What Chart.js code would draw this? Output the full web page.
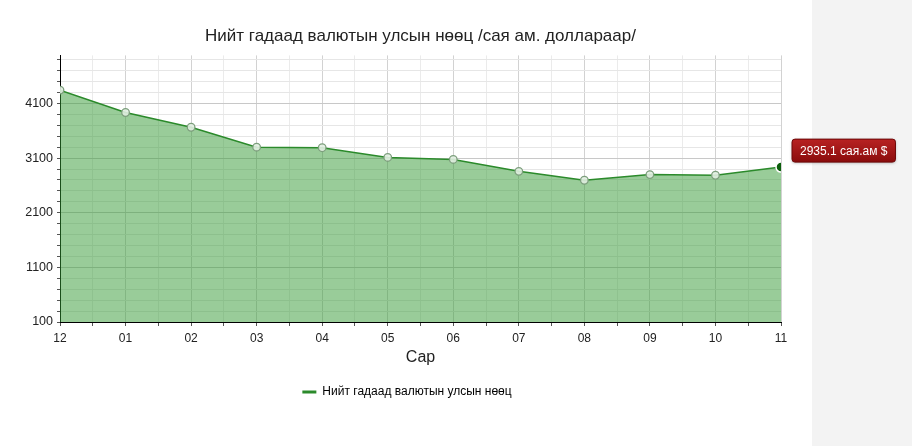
<!DOCTYPE html>
<html>
<head>
<meta charset="utf-8">
<script src="https://cdn.jsdelivr.net/npm/chart.js@4"></script>
<style>
  html, body { margin: 0; padding: 0; }
  body {
    width: 912px; height: 446px; overflow: hidden;
    background: linear-gradient(to right, #fff 0, #fff 812px, #f3f3f3 812px, #f3f3f3 100%);
  }
  #wrap { position: relative; width: 912px; height: 446px; }
</style>
</head>
<body>
<div id="wrap"><canvas id="chart"></canvas></div>
<script>
// Data
const months = ['12', '01', '02', '03', '04', '05', '06', '07', '08', '09', '10', '11'];
const reserves = [4345, 3935, 3665, 3300, 3290, 3112, 3075, 2858, 2695, 2798, 2786, 2935.1];
const yMin = 100;
const yMax = 4980;
const yTicks = [100, 300, 500, 700, 900, 1100, 1300, 1500, 1700, 1900, 2100, 2300, 2500, 2700, 2900,
                3100, 3300, 3500, 3700, 3900, 4100, 4300, 4500, 4700, 4900];
const yLabels = [100, 1100, 2100, 3100, 4100];

const titleText = 'Нийт гадаад валютын улсын нөөц /сая ам. доллараар/';
const seriesName = 'Нийт гадаад валютын улсын нөөц';
const xTitle = 'Сар';
const unitText = 'сая.ам $';

const lastIdx = reserves.length - 1;
const FONT = "'Liberation Sans', Arial, sans-serif";

// Tooltip-like label next to the last point
const valueBadge = {
    id: 'valueBadge',
    afterDatasetsDraw(chart) {
        const pt = chart.getDatasetMeta(0).data[lastIdx];
        const c = chart.ctx;
        const text = reserves[lastIdx].toFixed(1) + ' ' + unitText;
        c.save();
        c.font = '12px ' + FONT;
        const w = c.measureText(text).width + 16;
        const h = 23;
        const x = pt.x + 11;
        const y = pt.y - 28;
        const g = c.createLinearGradient(0, y, 0, y + h);
        g.addColorStop(0, '#b82222');
        g.addColorStop(1, '#8a0c0c');
        c.shadowColor = 'rgba(0,0,0,0.3)';
        c.shadowBlur = 3;
        c.shadowOffsetY = 1;
        c.beginPath();
        c.roundRect(x, y, w, h, 3);
        c.fillStyle = g;
        c.fill();
        c.shadowColor = 'transparent';
        c.strokeStyle = '#6e0808';
        c.lineWidth = 1;
        c.stroke();
        c.fillStyle = '#fff';
        c.textAlign = 'center';
        c.textBaseline = 'middle';
        c.fillText(text, x + w / 2, y + h / 2 + 1);
        c.restore();
    }
};

new Chart(document.getElementById('chart'), {
    type: 'line',
    data: {
        datasets: [{
            label: seriesName,
            data: reserves.map((v, i) => ({ x: i, y: v })),
            borderColor: '#2b8a2b',
            borderWidth: 1.5,
            backgroundColor: 'rgba(51, 153, 51, 0.5)',
            fill: 'start',
            tension: 0,
            clip: 0,
            pointRadius: reserves.map((v, i) => i === lastIdx ? 5 : 3.8),
            pointBackgroundColor: reserves.map((v, i) => i === lastIdx ? '#0b5e0b' : 'rgba(225, 238, 225, 0.9)'),
            pointBorderColor: reserves.map((v, i) => i === lastIdx ? '#ffffff' : '#7d9f7d'),
            pointBorderWidth: reserves.map((v, i) => i === lastIdx ? 1.5 : 1.3)
        }]
    },
    options: {
        responsive: true,
        maintainAspectRatio: false,
        animation: false,
        layout: { padding: { left: 0, right: 98, top: 0, bottom: 38 } },
        scales: {
            x: {
                type: 'linear',
                min: 0,
                max: lastIdx,
                afterBuildTicks: (s) => {
                    const t = [];
                    for (let i = 0; i <= lastIdx * 2; i++) t.push({ value: i / 2 });
                    s.ticks = t;
                },
                afterFit: (s) => { s.height = 54; },
                ticks: {
                    autoSkip: false,
                    maxRotation: 0,
                    padding: 5,
                    color: '#222',
                    font: { size: 12, family: FONT },
                    callback: (v) => Number.isInteger(v) ? months[v] : ''
                },
                grid: {
                    color: (ctx) => Number.isInteger(ctx.tick.value) ? '#d2d2d2' : '#ebebeb',
                    tickColor: '#555',
                    tickLength: 4
                },
                border: { color: '#000', width: 1 },
                title: {
                    display: true,
                    text: xTitle,
                    color: '#222',
                    font: { size: 16, family: FONT },
                    padding: { top: 0, bottom: 9 }
                }
            },
            y: {
                min: yMin,
                max: yMax,
                afterBuildTicks: (s) => { s.ticks = yTicks.map(v => ({ value: v })); },
                afterFit: (s) => { s.width = 60; },
                ticks: {
                    autoSkip: false,
                    padding: 4,
                    color: '#222',
                    font: { size: 12.5, family: FONT },
                    callback: (v) => yLabels.includes(v) ? String(v) : ''
                },
                grid: {
                    color: (ctx) => yLabels.includes(ctx.tick.value) ? '#c8c8c8' : '#e6e6e6',
                    tickColor: '#555',
                    tickLength: 3
                },
                border: { color: '#000', width: 1 }
            },
            yr: {
                position: 'right',
                display: true,
                afterFit: (s) => { s.width = 33; },
                ticks: { display: false },
                grid: { display: false, drawTicks: false },
                border: { display: false }
            }
        },
        plugins: {
            title: {
                display: true,
                text: titleText,
                fullSize: false,
                color: '#222',
                font: { size: 17, weight: 'normal', family: FONT },
                padding: { top: 26, bottom: 9 }
            },
            legend: {
                position: 'bottom',
                labels: {
                    boxWidth: 14,
                    boxHeight: 3,
                    padding: 10,
                    color: '#222',
                    font: { size: 12, family: FONT },
                    generateLabels: (chart) => [{
                        text: seriesName,
                        fillStyle: '#2b8a2b',
                        strokeStyle: '#2b8a2b',
                        lineWidth: 0,
                        datasetIndex: 0
                    }]
                }
            },
            tooltip: { enabled: false }
        }
    },
    plugins: [valueBadge]
});
</script>
</body>
</html>
